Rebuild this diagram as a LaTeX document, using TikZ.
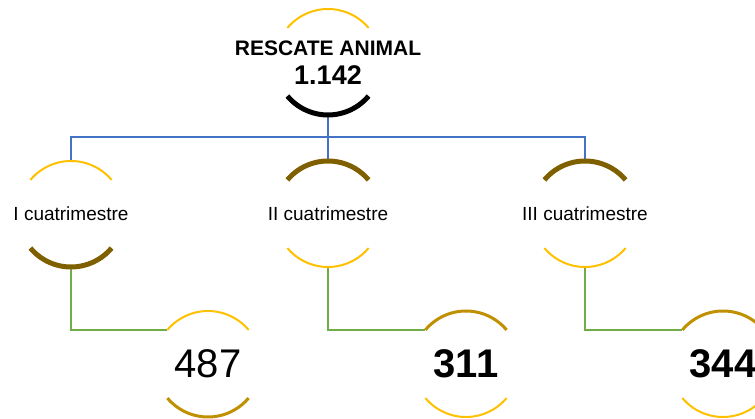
\documentclass[tikz,border=0pt]{standalone}
\usepackage{fontspec}
\setmainfont{Liberation Sans}
\usetikzlibrary{positioning}
\definecolor{ringyellow}{RGB}{255,192,0}
\definecolor{ringbrown}{RGB}{127,96,0}
\definecolor{ringgold}{RGB}{191,144,0}
\definecolor{linkblue}{RGB}{68,114,196}
\definecolor{linkgreen}{RGB}{112,173,71}
\tikzset{
    ring/.style={circle, minimum size=106pt, inner sep=0pt, outer sep=0pt},
    headtxt/.style={font=\fontsize{21}{24}\selectfont\bfseries},
    headnum/.style={font=\fontsize{27}{29}\selectfont\bfseries},
    termtxt/.style={font=\fontsize{19}{22}\selectfont},
    numtxt/.style={font=\fontsize{40}{44}\selectfont},
    numbold/.style={font=\fontsize{40}{44}\selectfont\bfseries},
    arcthin/.style={draw=ringyellow, line width=2pt},
    arcgold/.style={draw=ringgold, line width=3pt},
    arcbrown/.style={draw=ringbrown, line width=5pt},
    arcblack/.style={draw=black, line width=5pt},
    bluelink/.style={draw=linkblue, line width=2pt},
    greenlink/.style={draw=linkgreen, line width=2pt}
}
\begin{document}
\begin{tikzpicture}[x=1pt, y=1pt]
    \useasboundingbox (0,0) rectangle (755,419);
    % top node
    \node[ring, label={[headtxt, yshift=14pt]center:RESCATE ANIMAL}, label={[headnum, yshift=-13pt]center:1.142}] (top) at (328,357) {};
    % cuatrimestres
    \node[ring, label={[termtxt]center:I cuatrimestre}] (c1) at (71,205) {};
    \node[ring, label={[termtxt]center:II cuatrimestre}] (c2) at (328,205) {};
    \node[ring, label={[termtxt]center:III cuatrimestre}] (c3) at (585,205) {};
    % values
    \node[ring, label={[numtxt]center:487}] (v1) at (208,55) {};
    \node[ring, label={[numbold]center:311}] (v2) at (466,55) {};
    \node[ring, label={[numbold]center:344}] (v3) at (723,55) {};
    % links
    \draw[bluelink] (top.south) -- (c2.north);
    \draw[bluelink] (c1.north) -- ++(0,24) -| (c3.north);
    \draw[greenlink] (c1.south) |- (v1.140);
    \draw[greenlink] (c2.south) |- (v2.140);
    \draw[greenlink] (c3.south) |- (v3.140);
    % arcs
    \draw[arcthin] (top.140) arc (140:40:53pt); \draw[arcblack] (top.220) arc (220:320:53pt);
    \draw[arcthin] (c1.140) arc (140:40:53pt); \draw[arcbrown] (c1.220) arc (220:320:53pt);
    \draw[arcbrown] (c2.140) arc (140:40:53pt); \draw[arcthin] (c2.220) arc (220:320:53pt);
    \draw[arcbrown] (c3.140) arc (140:40:53pt); \draw[arcthin] (c3.220) arc (220:320:53pt);
    \draw[arcthin] (v1.140) arc (140:40:53pt); \draw[arcgold] (v1.220) arc (220:320:53pt);
    \draw[arcgold] (v2.140) arc (140:40:53pt); \draw[arcthin] (v2.220) arc (220:320:53pt);
    \draw[arcgold] (v3.140) arc (140:40:53pt); \draw[arcthin] (v3.220) arc (220:320:53pt);
\end{tikzpicture}
\end{document}
